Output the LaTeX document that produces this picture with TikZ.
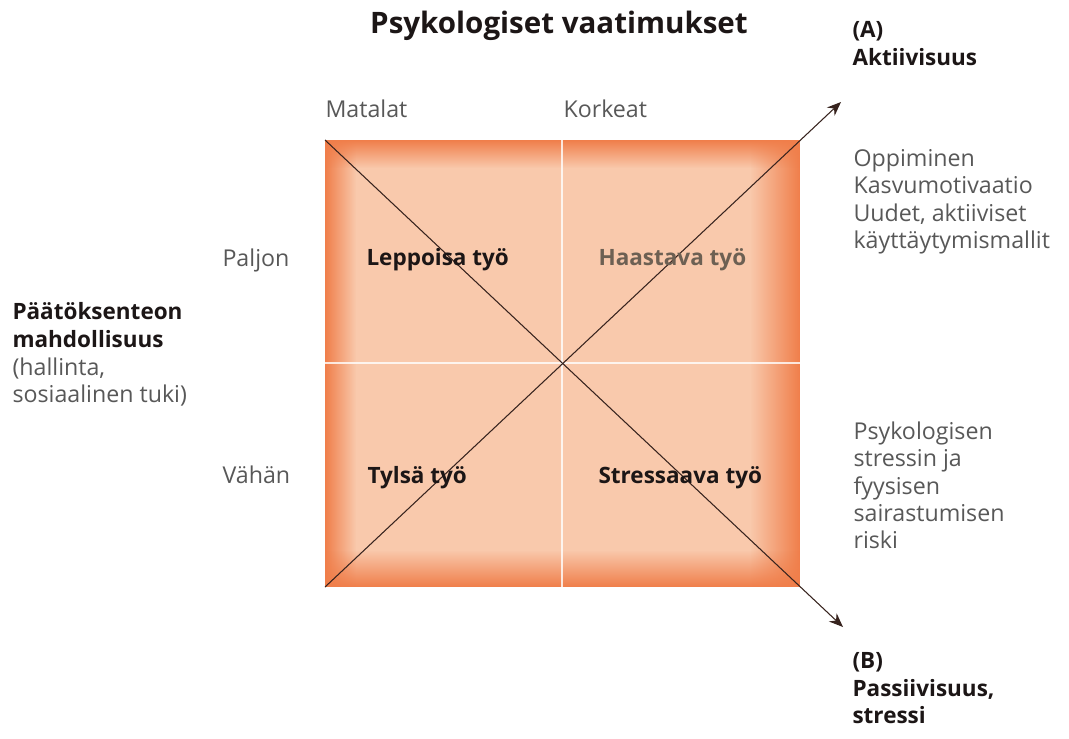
\documentclass[tikz,border=0pt]{standalone}
\usepackage{fontspec}
\setmainfont{Open Sans}
\usetikzlibrary{arrows.meta,fadings}
\definecolor{edgeor}{RGB}{240,126,74}
\definecolor{peach}{RGB}{249,201,172}
\definecolor{txtgray}{RGB}{88,88,88}
\definecolor{txtdark}{RGB}{28,22,22}
\definecolor{linebrown}{RGB}{55,35,30}

\begin{document}
\begin{tikzpicture}[x=0.025cm,y=-0.025cm
	,>={Stealth[length=10pt,width=8pt]}
	,line width=.75pt]
  \tikzstyle{plain}
  =[inner sep=0pt,anchor=north west,align=left
   ,text=txtgray,font=\fontsize{16.5}{19.5}\selectfont]
  \tikzstyle{heading}
  =[plain,text=txtdark,font=\bfseries\fontsize{16}{19.5}\selectfont]
  \useasboundingbox (0,0) rectangle (1069,738);

  % corners, middle and arrow tips
  \coordinate (nw) at (325,140);
  \coordinate (ne) at (800,140);
  \coordinate (sw) at (325,587);
  \coordinate (se) at (800,587);
  \coordinate (ntop) at (562,140);
  \coordinate (nbot) at (562,587);
  \coordinate (wmid) at (325,363);
  \coordinate (emid) at (800,363);
  \coordinate (atip) at (841,102);
  \coordinate (btip) at (843,627);

  % shaded square
  \fill[peach] (nw) rectangle (se);
  \fill[edgeor,path fading=east] (325,140) rectangle (356,587);
  \fill[edgeor,path fading=west] (750,140) rectangle (800,587);
  \fill[edgeor,path fading=south] (325,140) rectangle (800,168);
  \fill[edgeor,path fading=north] (325,550) rectangle (800,587);
  \draw[white,line width=1.2pt,opacity=.8] (ntop) -- (nbot);
  \draw[white,line width=1.2pt,opacity=.8] (wmid) -- (emid);

  % diagonals
  \draw[->,linebrown] (nw) -- (btip);
  \draw[->,linebrown] (sw) -- (atip);

  % title and axis labels
  \node[heading,anchor=north,font=\bfseries\fontsize{21}{25}\selectfont]
    (title) at (559,11) {Psykologiset vaatimukset};
  \node[plain] (matalat) at (325,99) {Matalat};
  \node[plain] (korkeat) at (563,99) {Korkeat};
  \node[plain] (paljon) at (222,248) {Paljon};
  \node[plain] (vahan) at (222,465) {Vähän};

  % quadrants
  \node[heading] (leppoisa) at (366,248) {Leppoisa työ};
  \node[heading,text=txtgray!80!brown] (haastava) at (598,248) {Haastava työ};
  \node[heading] (tylsa) at (367,466) {Tylsä työ};
  \node[heading] (stressaava) at (598,466) {Stressaava työ};

  % left side
  \node[heading] (paatos) at (12,302) {Päätöksenteon\\mahdollisuus};
  \node[plain] (hallinta) at (12,357) {(hallinta,\\sosiaalinen tuki)};

  % right side
  \node[heading] (aktiiv) at (852,21) {(A)\\Aktiivisuus};
  \node[plain] (oppiminen) at (853,149)
    {Oppiminen\\Kasvumotivaatio\\Uudet, aktiiviset\\käyttäytymismallit};
  \node[plain] (riski) at (853,421)
    {Psykologisen\\stressin ja\\fyysisen\\sairastumisen\\riski};
  \node[heading] (passiiv) at (852,652) {(B)\\Passiivisuus,\\stressi};
\end{tikzpicture}
\end{document}
